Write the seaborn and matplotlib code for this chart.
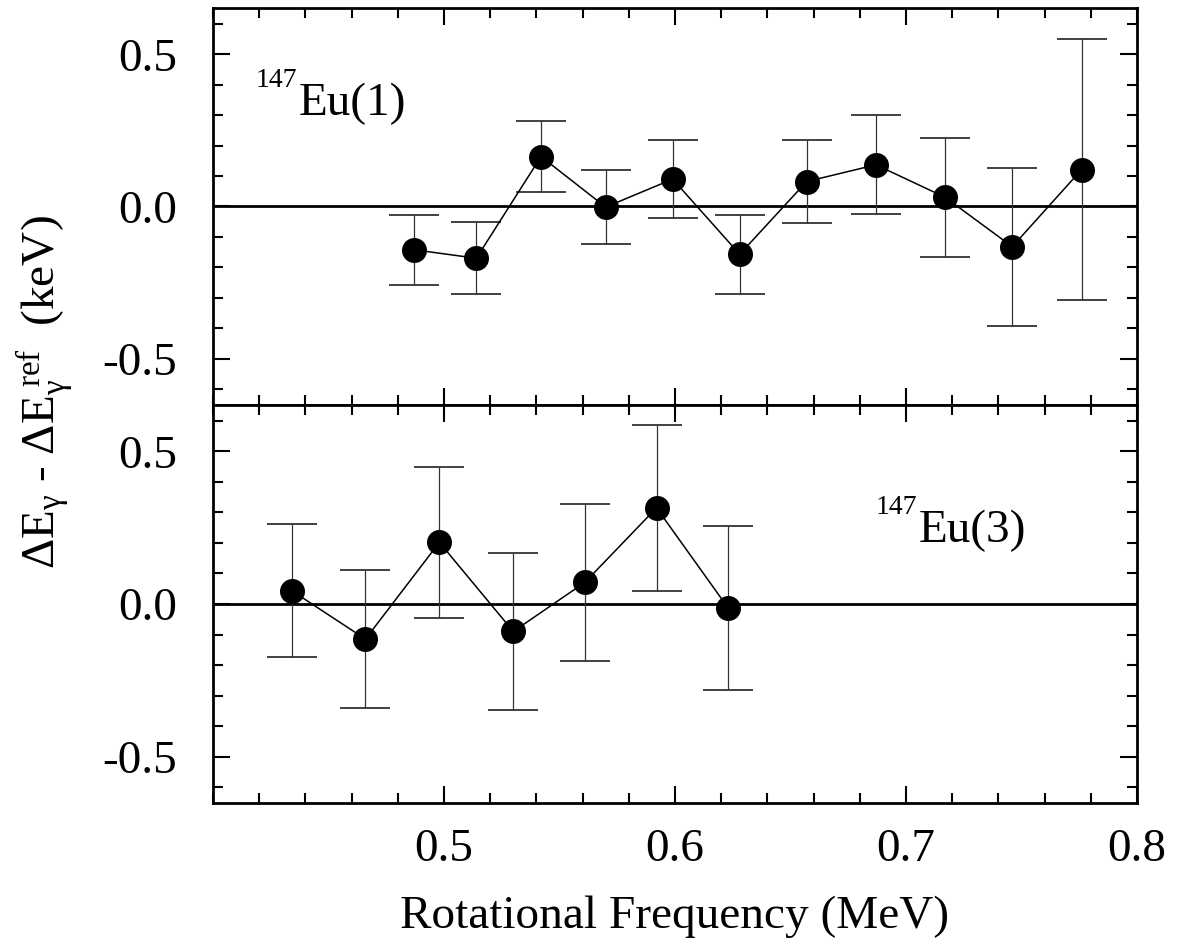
import numpy as np
import pandas as pd
import matplotlib
matplotlib.use("Agg")
import matplotlib.pyplot as plt
import seaborn as sns
from matplotlib.ticker import MultipleLocator, FixedLocator

# ---- data ----
freq_eu1 = [0.487, 0.514, 0.542, 0.570, 0.599, 0.628, 0.657, 0.687, 0.717, 0.746, 0.776]
diff_eu1 = [-0.142, -0.170, 0.164, -0.002, 0.090, -0.157, 0.082, 0.137, 0.030, -0.132, 0.121]
err_eu1 = [0.115, 0.118, 0.118, 0.122, 0.128, 0.129, 0.135, 0.163, 0.196, 0.260, 0.428]

freq_eu3 = [0.434, 0.466, 0.498, 0.530, 0.561, 0.592, 0.623]
diff_eu3 = [0.044, -0.115, 0.202, -0.090, 0.071, 0.315, -0.013]
err_eu3 = [0.217, 0.226, 0.247, 0.256, 0.257, 0.271, 0.270]

panel_labels = ["Eu(1)", "Eu(3)"]
mass_number = "147"
x_ticks = [0.5, 0.6, 0.7, 0.8]
y_ticks = [-0.5, 0.0, 0.5]
x_label = "Rotational Frequency (MeV)"
y_label = r"$\mathrm{\Delta E_{\gamma}}$ - $\mathrm{\Delta E_{\gamma}^{\ ref}}$  (keV)"

sns.set_style("ticks")
plt.rcParams["font.family"] = ["Liberation Serif", "DejaVu Serif"]
plt.rcParams["mathtext.fontset"] = "custom"
plt.rcParams["mathtext.rm"] = "Liberation Serif"
plt.rcParams["mathtext.it"] = "Liberation Serif:italic"
plt.rcParams["mathtext.bf"] = "Liberation Serif:bold"
plt.rcParams["axes.unicode_minus"] = False
for k in ["text.color", "axes.labelcolor", "xtick.color", "ytick.color", "axes.edgecolor"]:
    plt.rcParams[k] = "black"

W, H = 1186, 947
fig = plt.figure(figsize=(W / 100, H / 100), dpi=100)
left, right = 213 / W, 1137 / W
top1, bot1 = 1 - 8 / H, 1 - 405 / H
top2, bot2 = 1 - 405 / H, 1 - 803 / H
ax1 = fig.add_axes([left, bot1, right - left, top1 - bot1])
ax2 = fig.add_axes([left, bot2, right - left, top2 - bot2], sharex=ax1)

datasets = [
    (ax1, freq_eu1, diff_eu1, err_eu1, panel_labels[0], (0.437, 0.300)),
    (ax2, freq_eu3, diff_eu3, err_eu3, panel_labels[1], (0.7056, 0.204)),
]

for ax, xs, ys, es, lab, pos in datasets:
    df = pd.DataFrame({"x": xs, "y": ys, "e": es})
    ax.axhline(0, color="black", lw=2.0, zorder=1)
    ax.errorbar(df["x"], df["y"], yerr=df["e"], fmt="none", ecolor="#333333",
                elinewidth=0.9, capsize=18, capthick=1.3, zorder=2)
    sns.lineplot(data=df, x="x", y="y", ax=ax, color="black", lw=1.1,
                 marker="o", markersize=18, markeredgewidth=0,
                 markerfacecolor="black", sort=False, zorder=3, legend=False)
    ax.set_xlim(0.4, 0.8)
    ax.set_ylim(-0.652, 0.652)
    ax.yaxis.set_major_locator(FixedLocator(y_ticks))
    ax.yaxis.set_minor_locator(MultipleLocator(0.1))
    ax.xaxis.set_major_locator(FixedLocator(x_ticks))
    ax.xaxis.set_minor_locator(MultipleLocator(0.02))
    ax.yaxis.set_major_formatter(plt.FormatStrFormatter("%.1f"))
    ax.xaxis.set_major_formatter(plt.FormatStrFormatter("%.1f"))
    ax.tick_params(which="both", direction="in", top=True, right=True,
                   labelsize=34, width=1.5, colors="black")
    ax.tick_params(which="major", length=12)
    ax.tick_params(which="minor", length=7)
    ax.tick_params(axis="y", pad=26)
    ax.tick_params(axis="x", pad=18)
    for sp in ax.spines.values():
        sp.set_linewidth(2.0)
        sp.set_color("black")
    ax.set_xlabel("")
    ax.set_ylabel("")
    ax.text(pos[0], pos[1], lab, ha="left", va="baseline", fontsize=34)
    ax.annotate(mass_number, xy=pos, xytext=(-1, 20), textcoords="offset points",
                ha="right", va="baseline", fontsize=20)

ax1.tick_params(axis="x", labelbottom=False)
ax2.set_xlabel(x_label, fontsize=34, labelpad=18)
fig.text(45 / W, 1 - 392 / H, y_label, rotation=90, ha="center", va="center",
         fontsize=34)

fig.savefig("out.png", dpi=100)
